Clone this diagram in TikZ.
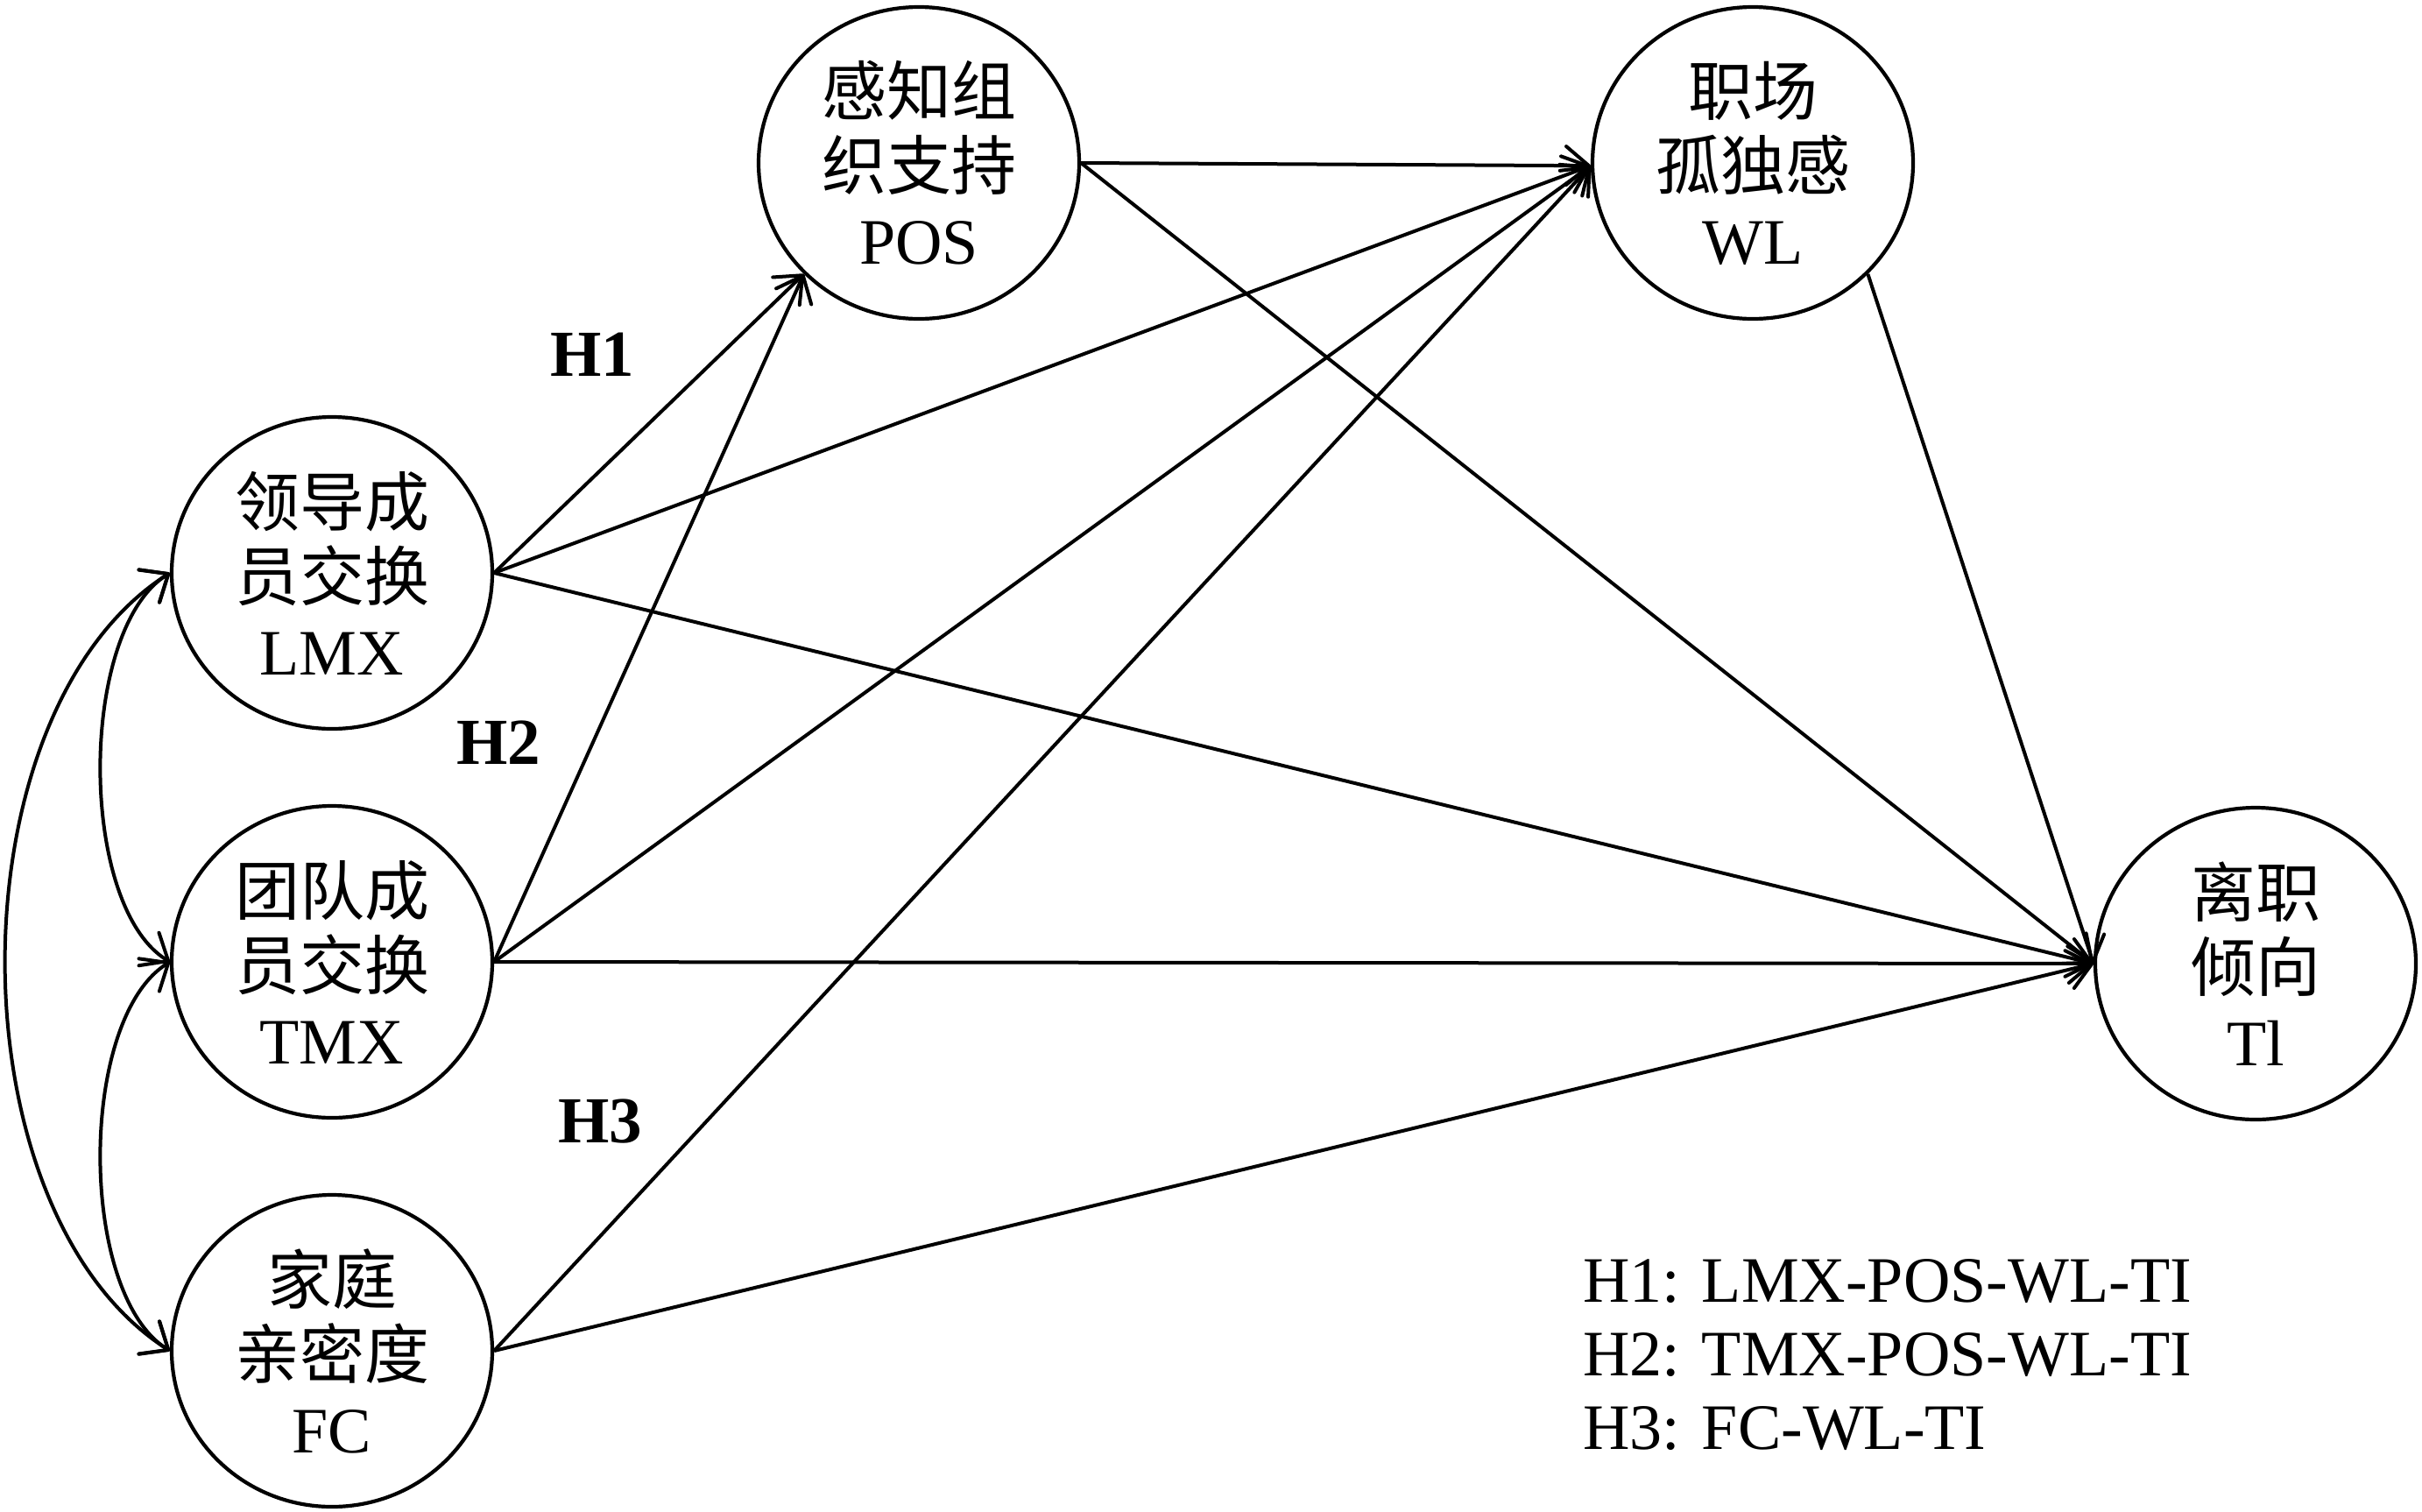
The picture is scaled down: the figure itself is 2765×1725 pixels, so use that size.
\documentclass[tikz,border=0pt]{standalone}
\usepackage{fontspec}
\setmainfont{Liberation Serif}
\newfontfamily\cjkf{Noto Sans CJK SC}
\usetikzlibrary{shapes.geometric,arrows.meta}
\begin{document}
\begin{tikzpicture}[x=1pt,y=-1pt,
  var/.style={draw,ellipse,line width=4.2pt,minimum width=366pt,minimum height=356pt,inner sep=0pt},
  lbl/.style={align=center,font=\fontsize{74}{85}\selectfont,inner sep=0pt},
  hyp/.style={font=\fontsize{75}{80}\selectfont\bfseries,inner sep=0pt},
  leg/.style={font=\fontsize{74}{84}\selectfont,inner sep=0pt,anchor=base west},
  tipb/.tip={Straight Barb[length=26pt,width=44pt,round]},
  conn/.style={line width=4pt,-tipb},
  dbl/.style={line width=4pt,tipb-tipb}
  ]
\useasboundingbox (0,0) rectangle (2765,1725);
\fill[white] (0,0) rectangle (2765,1725);

\node[var] (POS) at (1049,186) {};
\node[var] (WL)  at (2001,186) {};
\node[var] (LMX) at (379,654) {};
\node[var] (TMX) at (379,1098) {};
\node[var] (FC)  at (379,1542) {};
\node[var] (TI)  at (2575,1100) {};

\node[lbl] (POSt) at (POS) {{\cjkf 感知组}\\{\cjkf 织支持}\\POS};
\node[lbl] (WLt)  at (WL)  {{\cjkf 职场}\\{\cjkf 孤独感}\\WL};
\node[lbl] (LMXt) at (LMX) {{\cjkf 领导成}\\{\cjkf 员交换}\\LMX};
\node[lbl] (TMXt) at (TMX) {{\cjkf 团队成}\\{\cjkf 员交换}\\TMX};
\node[lbl] (FCt)  at (FC)  {{\cjkf 家庭}\\{\cjkf 亲密度}\\FC};
\node[lbl] (TIt)  at (TI)  {{\cjkf 离职}\\{\cjkf 倾向}\\Tl};

\coordinate (posin) at (POS.224);
\coordinate (wlin) at (WL.181);
\coordinate (tiin) at (TI.180.5);

\draw[conn] (LMX.east) -- (posin);
\draw[conn] (TMX.east) -- (posin);
\draw[conn] (LMX.east) -- (wlin);
\draw[conn] (TMX.east) -- (wlin);
\draw[conn] (FC.east) -- (wlin);
\draw[conn] (POS.east) -- (wlin);
\draw[conn] (LMX.east) -- (tiin);
\draw[conn] (TMX.east) -- (tiin);
\draw[conn] (FC.east) -- (tiin);
\draw[conn] (POS.east) -- (tiin);
\draw[conn] (WL.-44) -- (tiin);

\draw[dbl] (LMX.west) .. controls (89,720) and (89,1034) .. (TMX.west);
\draw[dbl] (TMX.west) .. controls (89,1164) and (89,1476) .. (FC.west);
\draw[dbl] (LMX.west) .. controls (-56,814) and (-56,1382) .. (FC.west);

\node[hyp] (h1) at (676,405) {H1};
\node[hyp] (h2) at (569,848) {H2};
\node[hyp] (h3) at (685,1280) {H3};

\node[leg] (l1) at (1807,1486) {H1: LMX-POS-WL-TI};
\node[leg] (l2) at (1807,1570) {H2: TMX-POS-WL-TI};
\node[leg] (l3) at (1807,1654) {H3: FC-WL-TI};
\end{tikzpicture}
\end{document}
